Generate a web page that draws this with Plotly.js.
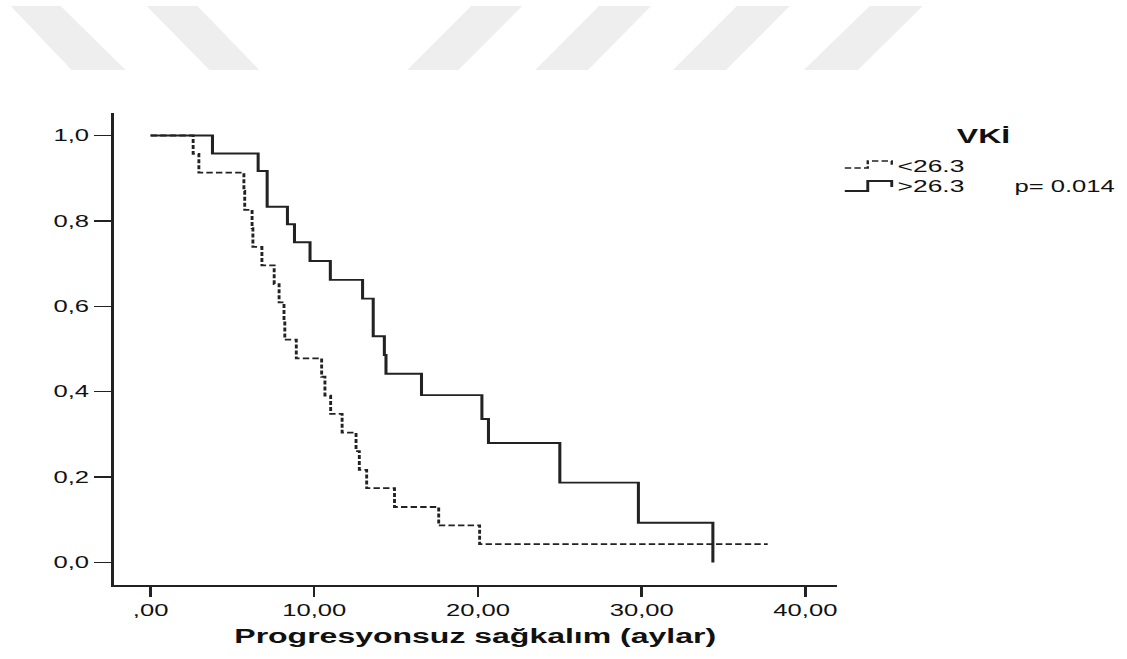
<!DOCTYPE html>
<html>
<head>
<meta charset="utf-8">
<script src="https://cdn.plot.ly/plotly-3.0.1.min.js"></script>
<style>
  html, body { margin: 0; padding: 0; background: #ffffff; overflow: hidden; }
  #wrap { width: 1127px; height: 659px; overflow: hidden; position: relative; }
  #chart { position: absolute; left: 0; top: 0; transform-origin: 0 0; }
</style>
</head>
<body>
<div id="wrap"><div id="chart"></div></div>
<script>
// ---- data ----
const groupNames = ["<26.3", ">26.3"];
// BMI < 26.3 (dashed)
const timeLow = [0, 2.6, 2.95, 5.7, 5.75, 6.2, 6.25, 6.8, 7.55, 7.85, 8.15, 8.2, 8.9, 10.45, 10.65, 11.0, 11.7, 12.55, 12.75, 13.2, 14.9, 17.6, 20.1, 37.7];
const survLow = [1, 0.957, 0.913, 0.870, 0.826, 0.783, 0.739, 0.696, 0.652, 0.609, 0.565, 0.522, 0.478, 0.435, 0.391, 0.348, 0.304, 0.261, 0.217, 0.174, 0.130, 0.087, 0.043, 0.043];
// BMI > 26.3 (solid)
const timeHigh = [0, 3.78, 6.57, 7.12, 8.36, 8.79, 9.74, 10.98, 12.95, 13.6, 14.28, 14.38, 16.55, 20.24, 20.64, 25.0, 29.8, 34.35];
const survHigh = [1, 0.958, 0.917, 0.833, 0.792, 0.75, 0.706, 0.662, 0.618, 0.53, 0.486, 0.442, 0.392, 0.336, 0.28, 0.187, 0.093, 0.0];

const xTickVals = [0, 10, 20, 30, 40];
const xTickText = [",00", "10,00", "20,00", "30,00", "40,00"];
const yTickVals = [0, 0.2, 0.4, 0.6, 0.8, 1.0];
const yTickText = ["0,0", "0,2", "0,4", "0,6", "0,8", "1,0"];
const xTitle = "Progresyonsuz sağkalım (aylar)";
const legendTitle = "VKİ";
const pText = "p= 0.014";

// ---- geometry (final picture pixels) ----
const S = 1.6;                 // horizontal stretch of the picture
const W = 1127, H = 659;
const L = 114, R = 838, T = 113, B = 585;
const px = x => (x - L) / (R - L);
const py = y => (B - y) / (B - T);
const pathOf = pts => pts.map((p, i) => (i ? "L" : "M") + px(p[0]).toFixed(5) + "," + py(p[1]).toFixed(5)).join(" ") + " Z";
const openPath = pts => pts.map((p, i) => (i ? "L" : "M") + px(p[0]).toFixed(5) + "," + py(p[1]).toFixed(5)).join(" ");

const ink = "#222222";
const font = "Liberation Sans, Arial, sans-serif";

const traces = [
  { x: timeLow, y: survLow, name: groupNames[0], mode: "lines",
    line: { shape: "hv", color: ink, width: 1.8, dash: "4px,2px" } },
  { x: timeHigh, y: survHigh, name: groupNames[1], mode: "lines",
    line: { shape: "hv", color: ink, width: 1.9 } }
];

// background watermark stripes
const stripes = [
  [[11,6],[61,6],[126,70],[72,70]],
  [[147,6],[198,6],[260,70],[210,70]],
  [[472,6],[523,6],[459,70],[408,70]],
  [[600,6],[652,6],[589,70],[536,70]],
  [[738,6],[791,6],[727,70],[674,70]],
  [[871,6],[924,6],[859,70],[805,70]]
];
const shapes = stripes.map(p => ({
  type: "path", xref: "paper", yref: "paper", path: pathOf(p),
  fillcolor: "#eeeeee", line: { width: 0 }, layer: "below"
}));
// legend glyphs
shapes.push({ type: "path", xref: "paper", yref: "paper",
  path: openPath([[846,168],[869,168],[869,161],[893,161],[893,166]]),
  line: { color: ink, width: 1.5, dash: "4px,2px" } });
shapes.push({ type: "path", xref: "paper", yref: "paper",
  path: openPath([[846,191],[869,191],[869,181],[893,181],[893,187]]),
  line: { color: ink, width: 1.8 } });

const annotations = [
  { text: "<b>" + legendTitle + "</b>", xref: "paper", yref: "paper", x: px(985), y: py(136),
    xanchor: "center", yanchor: "middle", showarrow: false, font: { family: font, size: 20, color: "#111" } },
  { text: groupNames[0].replace("<", "&lt;"), xref: "paper", yref: "paper", x: px(896), y: py(166),
    xanchor: "left", yanchor: "middle", showarrow: false, font: { family: font, size: 16.5, color: "#111" } },
  { text: groupNames[1].replace(">", "&gt;"), xref: "paper", yref: "paper", x: px(896), y: py(186),
    xanchor: "left", yanchor: "middle", showarrow: false, font: { family: font, size: 16.5, color: "#111" } },
  { text: pText, xref: "paper", yref: "paper", x: px(1013), y: py(186),
    xanchor: "left", yanchor: "middle", showarrow: false, font: { family: font, size: 16, color: "#111" } }
];

const layout = {
  width: W / S, height: H,
  margin: { l: L / S, r: (W - R) / S, t: T, b: H - B, pad: 0 },
  paper_bgcolor: "#ffffff", plot_bgcolor: "#ffffff",
  showlegend: false,
  font: { family: font, size: 16, color: "#111" },
  xaxis: {
    range: [-2.26, 41.92], tickvals: xTickVals, ticktext: xTickText,
    showgrid: false, zeroline: false, showline: true, linecolor: ink, linewidth: 1.5,
    ticks: "outside", ticklen: 10, tickwidth: 1.5, tickcolor: ink,
    tickfont: { family: font, size: 16, color: "#111" },
    title: { text: "<b>" + xTitle + "</b>", font: { family: font, size: 20, color: "#111" }, standoff: 11 }
  },
  yaxis: {
    range: [-0.0527, 1.0527], tickvals: yTickVals, ticktext: yTickText,
    showgrid: false, zeroline: false, showline: true, linecolor: ink, linewidth: 1.5,
    ticks: "outside", ticklen: 17 / S, tickwidth: 1.5, tickcolor: ink,
    tickfont: { family: font, size: 16, color: "#111" }
  },
  shapes: shapes,
  annotations: annotations
};

const el = document.getElementById("chart");
el.style.transform = "scaleX(" + S + ")";
Plotly.newPlot(el, traces, layout, { staticPlot: true, displayModeBar: false });
</script>
</body>
</html>
